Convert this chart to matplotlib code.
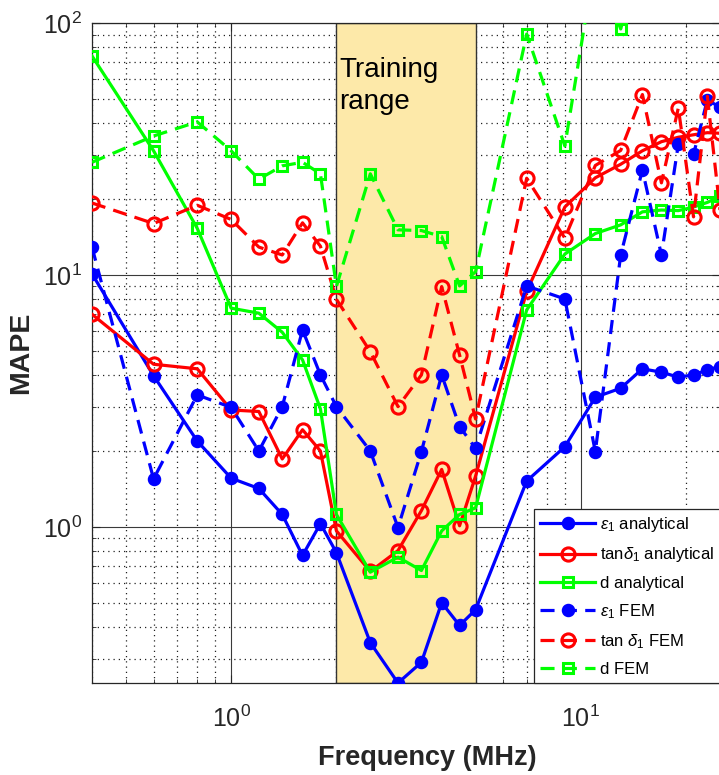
import numpy as np
import matplotlib
matplotlib.use('Agg')
import matplotlib.pyplot as plt
from matplotlib.ticker import LogLocator, NullFormatter, FixedLocator

# ---------------- data ----------------
freq = [0.4, 0.6, 0.8, 1.0, 1.2, 1.4, 1.6, 1.8, 2.0, 2.5, 3.0, 3.5, 4.0, 4.5, 5.0,
        7, 9, 11, 13, 15, 17, 19, 21, 23, 25]
eps_analytical = [10.1, 3.98, 2.19, 1.56, 1.42, 1.12, 0.77, 1.03, 0.79, 0.347, 0.24, 0.29,
                  0.50, 0.406, 0.469, 1.52, 2.08, 3.27, 3.55, 4.24, 4.11, 3.93, 4.01, 4.20, 4.33]
tan_analytical = [6.98, 4.42, 4.24, 2.91, 2.87, 1.86, 2.43, 2.00, 0.964, 0.665, 0.805, 1.16,
                  1.69, 1.01, 1.59, 8.6, 18.6, 24.3, 27.5, 31.1, 33.8, 35.2, 36.0, 36.7, 36.5]
d_analytical = [74.0, 31.1, 15.3, 7.38, 7.05, 5.92, 4.60, 2.94, 1.12, 0.661, 0.758, 0.671,
                0.964, 1.12, 1.19, 7.26, 12.1, 14.6, 15.8, 17.8, 18.1, 18.0, 18.6, 19.4, 20.5]
eps_fem = [12.9, 1.55, 3.34, 2.98, 2.00, 3.00, 6.05, 4.01, 3.00, 2.00, 0.994, 1.99, 4.01,
           2.50, 2.05, 9.04, 8.03, 1.99, 12.0, 26.1, 12.0, 33.0, 30.1, 49.5, 46.3]
tan_fem = [19.3, 16.0, 18.9, 16.6, 12.9, 12.0, 16.1, 13.0, 8.0, 4.96, 3.00, 4.01, 8.99,
           4.81, 2.68, 24.2, 14.0, 27.2, 31.2, 52.0, 23.2, 46.0, 17.0, 51.2, 18.1]
d_fem = [28.0, 35.6, 40.5, 31.1, 24.0, 27.1, 28.0, 25.2, 9.0, 25.2, 15.1, 15.0, 14.2,
         9.04, 10.3, 90.4, 32.5, 180, 94.7, 200, 200, 200, 200, 200, 200]

training_range = (2.0, 5.0)
labels = [r'$\epsilon_1$ analytical', r'tan$\delta_1$ analytical', 'd analytical',
          r'$\epsilon_1$ FEM', r'tan $\delta_1$ FEM', 'd FEM']

# ---------------- style ----------------
plt.rcParams['font.family'] = ['Liberation Sans', 'DejaVu Sans']
plt.rcParams['mathtext.fontset'] = 'custom'
plt.rcParams['mathtext.rm'] = 'Liberation Sans'
plt.rcParams['mathtext.it'] = 'Liberation Sans:italic'
plt.rcParams['mathtext.bf'] = 'Liberation Sans:bold'

TXT = '#262626'
fig = plt.figure(figsize=(7.19, 7.75), dpi=100)
ax = fig.add_axes([92/719, 92/775, 628/719, 660/775])

ax.set_xscale('log')
ax.set_yscale('log')
ax.set_xlim(0.4, 25)
ax.set_ylim(0.24, 100)

ax.axvspan(*training_range, facecolor='#FDE9A9', edgecolor='#333333', lw=1.0, zorder=1)

lw = 2.3
dash = (0, (4.4, 2.6))
series = [
    (eps_analytical, 'blue', 'o', '-', True, 7.5),
    (tan_analytical, 'red', 'o', '-', False, 9.5),
    (d_analytical, '#00FF00', 's', '-', False, 7),
    (eps_fem, 'blue', 'o', dash, True, 7.5),
    (tan_fem, 'red', 'o', dash, False, 9.5),
    (d_fem, '#00FF00', 's', dash, False, 7),
]
for (vals, c, m, ls, filled, ms), lab in zip(series, labels):
    ax.plot(freq, vals, color=c, lw=lw, linestyle=ls, marker=m, markersize=ms,
            markerfacecolor=c if filled else 'none', markeredgecolor=c,
            markeredgewidth=2.2, label=lab, zorder=3)

ax.text(2.04, 0.948, 'Training\nrange', transform=ax.get_xaxis_transform(),
        fontsize=20, va='top', ha='left', color='black', linespacing=1.3, zorder=4)

# grid
ax.set_axisbelow(True)
ax.grid(True, which='major', color='#3a3a3a', lw=0.8, linestyle='-')
ax.grid(True, which='minor', color='#222222', lw=0.9, linestyle=(0, (1, 3.2)))

ax.xaxis.set_major_locator(FixedLocator([1, 10]))
ax.yaxis.set_major_locator(FixedLocator([1, 10, 100]))
ax.xaxis.set_minor_locator(LogLocator(base=10, subs=np.arange(2, 10)))
ax.yaxis.set_minor_locator(LogLocator(base=10, subs=np.arange(2, 10)))
ax.xaxis.set_minor_formatter(NullFormatter())
ax.yaxis.set_minor_formatter(NullFormatter())
ax.set_xticklabels([r'$10^{0}$', r'$10^{1}$'])
ax.set_yticklabels([r'$10^{0}$', r'$10^{1}$', r'$10^{2}$'])

ax.tick_params(which='both', direction='in', colors=TXT, top=True, right=True)
ax.tick_params(which='major', length=6, width=0.8, labelsize=18)
ax.tick_params(which='minor', length=3, width=0.6)
ax.tick_params(axis='x', which='major', pad=16)
ax.tick_params(axis='y', which='major', pad=7)
for s in ax.spines.values():
    s.set_color(TXT)
    s.set_linewidth(0.9)

fig.text(21/719, 1 - 353/775, 'MAPE', rotation=90, ha='center', va='center',
         fontsize=20.5, fontweight='bold', color=TXT)
fig.text(427/719, 1 - 758/775, 'Frequency (MHz)', ha='center', va='center',
         fontsize=19.5, fontweight='bold', color=TXT)

leg = ax.legend(loc='lower right', borderaxespad=0, fontsize=12, frameon=True,
                fancybox=False, framealpha=1, edgecolor=TXT, handlelength=3.3,
                handletextpad=0.3, borderpad=0.35, labelspacing=0.68)
leg.get_frame().set_linewidth(0.9)
leg.set_zorder(10)

fig.savefig('out.png', dpi=100)
